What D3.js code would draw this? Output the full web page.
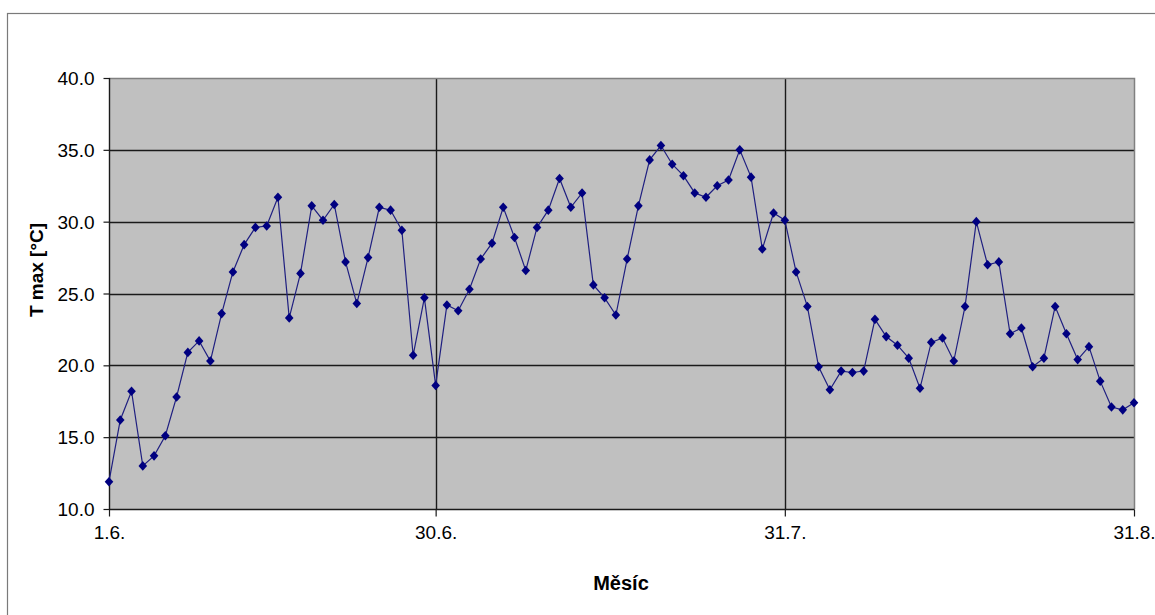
<!DOCTYPE html>
<html>
<head>
<meta charset="utf-8">
<script src="https://cdn.jsdelivr.net/npm/d3@7"></script>
<style>
  html, body { margin: 0; padding: 0; background: #fff; }
  svg { display: block; }
  text { font-family: "Liberation Sans", Arial, sans-serif; fill: #000; }
</style>
</head>
<body>
<svg id="chart" width="1155" height="615"></svg>
<script>
// ---- data ----
const tmax = [
  11.9, 16.2, 18.2, 13.0, 13.7, 15.1, 17.8, 20.9, 21.7, 20.3,
  23.6, 26.5, 28.4, 29.6, 29.7, 31.7, 23.3, 26.4, 31.1, 30.1,
  31.2, 27.2, 24.3, 27.5, 31.0, 30.8, 29.4, 20.7, 24.7, 18.6,
  24.2, 23.8, 25.3, 27.4, 28.5, 31.0, 28.9, 26.6, 29.6, 30.8,
  33.0, 31.0, 32.0, 25.6, 24.7, 23.5, 27.4, 31.1, 34.3, 35.3,
  34.0, 33.2, 32.0, 31.7, 32.5, 32.9, 35.0, 33.1, 28.1, 30.6,
  30.1, 26.5, 24.1, 19.9, 18.3, 19.6, 19.5, 19.6, 23.2, 22.0,
  21.4, 20.5, 18.4, 21.6, 21.9, 20.3, 24.1, 30.0, 27.0, 27.2,
  22.2, 22.6, 19.9, 20.5, 24.1, 22.2, 20.4, 21.3, 18.9, 17.1,
  16.9, 17.4
];
const xTickDays = [0, 29, 60, 91];
const xTickLabels = ["1.6.", "30.6.", "31.7.", "31.8."];
const yTicks = [10, 15, 20, 25, 30, 35, 40];
const yTitle = "T max [°C]";
const xTitle = "Měsíc";

// ---- layout ----
const svg = d3.select("#chart");
const L = 109, R = 1134, T = 78, B = 509;

const x = d3.scaleLinear().domain([0, tmax.length - 1]).range([L, R]);
const y = d3.scaleLinear().domain([10, 40]).range([B, T]);

// outer chart border
svg.append("rect")
  .attr("x", 7.5).attr("y", 13.5)
  .attr("width", 1300).attr("height", 800)
  .attr("fill", "#fff").attr("stroke", "#7a7a7a").attr("stroke-width", 1.2);

// plot background
svg.append("rect")
  .attr("x", L).attr("y", T)
  .attr("width", R - L).attr("height", B - T)
  .attr("fill", "#c0c0c0");

// horizontal grid lines
svg.append("g").selectAll("line")
  .data(yTicks.filter(d => d > 10 && d < 40))
  .join("line")
  .attr("x1", L).attr("x2", R)
  .attr("y1", d => Math.round(y(d)) + 0.5).attr("y2", d => Math.round(y(d)) + 0.5)
  .attr("stroke", "#1a1a1a").attr("stroke-width", 1.4);

// vertical grid lines
svg.append("g").selectAll("line")
  .data(xTickDays.filter(d => d > 0 && d < tmax.length - 1))
  .join("line")
  .attr("x1", d => Math.round(x(d)) + 0.5).attr("x2", d => Math.round(x(d)) + 0.5)
  .attr("y1", T).attr("y2", B)
  .attr("stroke", "#1a1a1a").attr("stroke-width", 1.4);

// plot border top/right (gray)
svg.append("path")
  .attr("d", `M${L},${T + 0.5}H${R + 0.5}V${B}`)
  .attr("fill", "none").attr("stroke", "#808080").attr("stroke-width", 1.5);

// y axis
const yAxis = d3.axisLeft(y).tickValues(yTicks).tickSize(6).tickPadding(9)
  .tickFormat(d3.format(".1f"));
const gy = svg.append("g").attr("transform", `translate(${L + 0.5},0)`).call(yAxis);
gy.select(".domain").attr("stroke", "#1a1a1a").attr("stroke-width", 1.4).attr("d", `M0,${T}V${B + 0.5}`);
gy.selectAll(".tick line").attr("stroke", "#1a1a1a").attr("stroke-width", 1.2);
gy.selectAll(".tick text")
  .style("font-family", "'Liberation Sans', Arial, sans-serif")
  .style("font-size", "19px").attr("fill", "#000")
  .attr("dy", "0.35em");

// x axis
const xAxis = d3.axisBottom(x).tickValues(xTickDays).tickSize(7).tickPadding(9)
  .tickFormat((d, i) => xTickLabels[i]);
const gx = svg.append("g").attr("transform", `translate(0,${B + 0.5})`).call(xAxis);
gx.select(".domain").attr("stroke", "#1a1a1a").attr("stroke-width", 1.4).attr("d", `M${L},0H${R + 0.5}`);
gx.selectAll(".tick line").attr("stroke", "#1a1a1a").attr("stroke-width", 1.2);
gx.selectAll(".tick text")
  .style("font-family", "'Liberation Sans', Arial, sans-serif")
  .style("font-size", "19px").attr("fill", "#000");

// line
svg.append("path")
  .datum(tmax)
  .attr("fill", "none")
  .attr("stroke", "#1f1f80")
  .attr("stroke-width", 1.2)
  .attr("d", d3.line().x((d, i) => x(i)).y(d => y(d)));

// diamond markers
svg.append("g").selectAll("path")
  .data(tmax)
  .join("path")
  .attr("transform", (d, i) => `translate(${x(i)},${y(d)})`)
  .attr("d", "M0,-4.8L4.3,0L0,4.8L-4.3,0Z")
  .attr("fill", "#000080");

// axis titles
svg.append("text")
  .attr("x", 621).attr("y", 590)
  .attr("text-anchor", "middle")
  .style("font-size", "20px").style("font-weight", "bold")
  .text(xTitle);

svg.append("text")
  .attr("transform", "translate(43,270) rotate(-90)")
  .attr("text-anchor", "middle")
  .style("font-size", "19px").style("font-weight", "bold")
  .text(yTitle);
</script>
</body>
</html>
